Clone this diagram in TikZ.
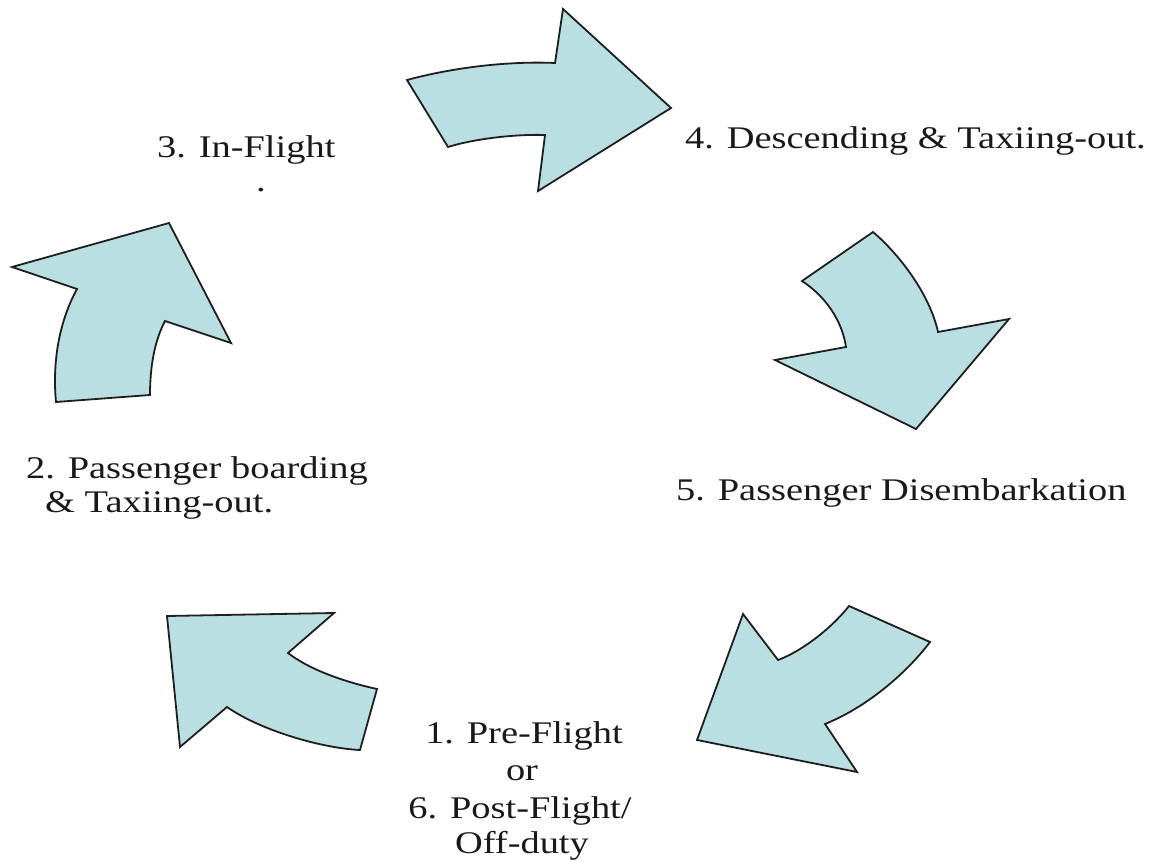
\documentclass[tikz,border=0pt]{standalone}
\usepackage{fontspec}
\setmainfont{Liberation Serif}[FakeStretch=1.22]
\definecolor{arrowfill}{RGB}{186,223,227}
\definecolor{arrowline}{RGB}{30,30,30}
\begin{document}
\begin{tikzpicture}[x=1pt,y=-1pt,
  bigarrow/.style={fill=arrowfill,draw=arrowline,line width=1.8pt,line join=miter},
  lbl/.style={inner sep=0pt,font=\fontsize{31.5}{36}\selectfont,text=black!90}]
\useasboundingbox (0,0) rectangle (1167,861);
% arrow 1 (top, pointing right)
\path[bigarrow] (407,80) .. controls (455,67) and (510,61) .. (555,63)
  -- (563,9) -- (671,108) -- (538,191) -- (545,135)
  .. controls (510,134) and (470,140) .. (448,147) -- cycle;
% arrow 2 (right, pointing down)
\path[bigarrow] (873,232) .. controls (900,255) and (930,295) .. (938,332)
  -- (1009,319) -- (916,429) -- (775,360) -- (846,347)
  .. controls (842,320) and (825,296) .. (802,281) -- cycle;
% arrow 3 (bottom right, pointing down-left)
\path[bigarrow] (849,606) -- (930,642)
  .. controls (905,675) and (865,708) .. (825,724)
  -- (857,772) -- (697,740) -- (743,614) -- (778,660)
  .. controls (800,652) and (830,630) .. (849,606) -- cycle;
% arrow 4 (bottom left, pointing up-left)
\path[bigarrow] (334,613) -- (167,616) -- (180,747) -- (227,707)
  .. controls (260,730) and (320,748) .. (360,750)
  -- (377,689)
  .. controls (345,682) and (310,670) .. (288,653) -- cycle;
% arrow 5 (left, pointing up)
\path[bigarrow] (12,267) -- (169,223) -- (231,343) -- (165,321)
  .. controls (155,340) and (150,365) .. (150,395)
  -- (56,402)
  .. controls (52,360) and (60,320) .. (77,289) -- cycle;
% labels
\node[lbl,anchor=base west] (t3) at (157,158) {3. In-Flight};
\node[lbl,anchor=base] (t3dot) at (261,192) {.};
\node[lbl,anchor=base west] (t4) at (685,149) {4. Descending \& Taxiing-out.};
\node[lbl,anchor=base west] (t5) at (676,500) {5. Passenger Disembarkation};
\node[lbl,anchor=base west] (t2a) at (26,478) {2. Passenger boarding};
\node[lbl,anchor=base west] (t2b) at (45,512) {\& Taxiing-out.};
\node[lbl,anchor=base] (t1a) at (524,743) {1. Pre-Flight};
\node[lbl,anchor=base] (t1b) at (522,780) {or};
\node[lbl,anchor=base] (t1c) at (520,818) {6. Post-Flight/};
\node[lbl,anchor=base] (t1d) at (522,853) {Off-duty};
\end{tikzpicture}
\end{document}
